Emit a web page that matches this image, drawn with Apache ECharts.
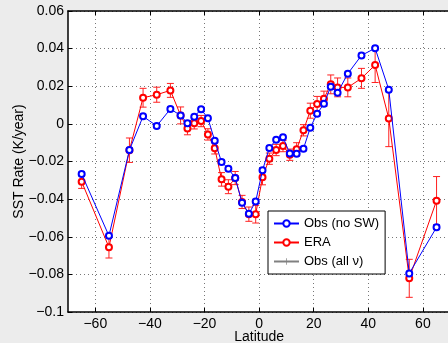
<!DOCTYPE html>
<html>
<head>
<meta charset="utf-8">
<script src="https://cdn.jsdelivr.net/npm/echarts@6/dist/echarts.min.js"></script>
<style>
html,body{margin:0;padding:0;background:#ececec;}
#c{width:448px;height:343px;}
</style>
</head>
<body>
<div id="c"></div>
<script>
// Latitude centres (degrees)
const latitudes = [-65, -55, -47.5, -42.5, -37.5, -32.5, -28.75, -26.25, -23.75, -21.25, -18.75, -16.25, -13.75, -11.25, -8.75, -6.25, -3.75, -1.25, 1.25, 3.75, 6.25, 8.75, 11.25, 13.75, 16.25, 18.75, 21.25, 23.75, 26.25, 28.75, 32.5, 37.5, 42.5, 47.5, 55, 65];
// Obs (no SW) SST rate, K/year
const obsNoSW = [-0.0267, -0.0595, -0.0139, 0.0040, -0.0011, 0.0079, 0.0045, 0.0003, 0.0038, 0.0078, 0.0030, -0.0090, -0.0203, -0.0238, -0.0288, -0.0419, -0.0478, -0.0412, -0.0247, -0.0128, -0.0085, -0.0071, -0.0157, -0.0159, -0.0132, -0.0020, 0.0054, 0.0107, 0.0198, 0.0166, 0.0267, 0.0364, 0.0402, 0.0182, -0.0795, -0.0550];
const obsNoSWErr = [0.0012, 0.0012, 0.0012, 0.0012, 0.0012, 0.0012, 0.0012, 0.0012, 0.0012, 0.0012, 0.0012, 0.0012, 0.0012, 0.0012, 0.0012, 0.0012, 0.0012, 0.0012, 0.0012, 0.0012, 0.0012, 0.0012, 0.0012, 0.0012, 0.0012, 0.0012, 0.0012, 0.0012, 0.0012, 0.0012, 0.0012, 0.0012, 0.0012, 0.0012, 0.0012, 0.0012];
// ERA SST rate, K/year
const era = [-0.0307, -0.0656, -0.0140, 0.0139, 0.0155, 0.0178, 0.0045, -0.0024, 0.0003, 0.0015, -0.0056, -0.0130, -0.0295, -0.0334, -0.0288, -0.0415, -0.0480, -0.0480, -0.0284, -0.0185, -0.0139, -0.0118, -0.0164, -0.0135, -0.0034, 0.0070, 0.0106, 0.0134, 0.0210, 0.0194, 0.0194, 0.0242, 0.0313, 0.0029, -0.0821, -0.0408];
const eraErr = [0.0036, 0.0057, 0.0065, 0.0050, 0.0040, 0.0037, 0.0045, 0.0034, 0.0030, 0.0030, 0.0030, 0.0030, 0.0036, 0.0037, 0.0035, 0.0035, 0.0038, 0.0047, 0.0040, 0.0030, 0.0030, 0.0030, 0.0030, 0.0035, 0.0030, 0.0040, 0.0040, 0.0040, 0.0050, 0.0050, 0.0050, 0.0053, 0.0093, 0.0150, 0.0101, 0.0128];
// Obs (all ν): not distinguishable in the figure (legend only)
const obsAllNu = [];
const xTicks = [-60, -40, -20, 0, 20, 40, 60];
const seriesNames = ['Obs (no SW)', 'ERA', 'Obs (all \u03bd)'];

const FONT = '"Liberation Sans", Arial, Helvetica, sans-serif';
const minus = s => String(s).replace('-', '\u2212');

function pairs(xs, ys) { return xs.map((x, i) => [x, ys[i]]); }

function errSeries(name, xs, ys, es, color, capW, z) {
  return {
    type: 'custom', name: name, z: z, silent: true, clip: true,
    renderItem: function (params, api) {
      const x = api.value(0), lo = api.value(1), hi = api.value(2);
      const p1 = api.coord([x, lo]), p2 = api.coord([x, hi]);
      const hw = capW / 2;
      const st = { stroke: color, lineWidth: 1 };
      return { type: 'group', children: [
        { type: 'line', shape: { x1: p1[0], y1: p1[1], x2: p2[0], y2: p2[1] }, style: st },
        { type: 'line', shape: { x1: p1[0] - hw, y1: p1[1], x2: p1[0] + hw, y2: p1[1] }, style: st },
        { type: 'line', shape: { x1: p2[0] - hw, y1: p2[1], x2: p2[0] + hw, y2: p2[1] }, style: st }
      ]};
    },
    encode: { x: 0, y: [1, 2] },
    data: xs.map((x, i) => [x, ys[i] - es[i], ys[i] + es[i]])
  };
}

const chart = echarts.init(document.getElementById('c'), null, { renderer: 'canvas' });
const axisLineStyle = { color: '#000', width: 1.5 };
chart.setOption({
  backgroundColor: '#ececec',
  animation: false,
  textStyle: { fontFamily: FONT },
  grid: { left: 68, top: 11, width: 382.2, bottom: 31, show: true, backgroundColor: '#fff', borderWidth: 0, containLabel: false, outerBoundsMode: 'none' },
  legend: {
    data: seriesNames,
    orient: 'vertical', left: 268, top: 211,
    backgroundColor: '#fff', borderColor: '#000', borderWidth: 1, borderRadius: 0,
    padding: [6, 6, 6, 5], itemGap: 6, itemWidth: 25, itemHeight: 8,
    textStyle: { fontSize: 13, color: '#000', fontFamily: FONT },
    selectedMode: false
  },
  xAxis: [{
    type: 'value', min: -70, max: 70, position: 'bottom',
    name: 'Latitude', nameLocation: 'middle', nameGap: 18, nameMoveOverlap: false,
    nameTextStyle: { fontSize: 14, color: '#000', fontFamily: FONT },
    axisLine: { show: true, onZero: false, lineStyle: axisLineStyle },
    axisTick: { show: true, inside: true, length: 4, customValues: xTicks, lineStyle: { color: '#000', width: 1 } },
    axisLabel: { customValues: xTicks, fontSize: 14, color: '#000', margin: 5, fontFamily: FONT, formatter: v => minus(v) },
    splitLine: { show: true, lineStyle: { color: '#777', type: [1, 3], width: 1 } }
  }, {
    type: 'value', min: -70, max: 70, position: 'top',
    axisLine: { show: true, onZero: false, lineStyle: axisLineStyle },
    axisTick: { show: true, inside: true, length: 4, customValues: xTicks, lineStyle: { color: '#000', width: 1 } },
    axisLabel: { show: false },
    splitLine: { show: false }
  }],
  yAxis: {
    type: 'value', min: -0.1, max: 0.06, interval: 0.02,
    name: 'SST Rate (K/year)', nameLocation: 'middle', nameGap: 42, nameMoveOverlap: false,
    nameTextStyle: { fontSize: 14, color: '#000', fontFamily: FONT },
    axisLine: { show: true, onZero: false, lineStyle: axisLineStyle },
    axisTick: { show: true, inside: true, length: 4, lineStyle: { color: '#000', width: 1 } },
    axisLabel: { fontSize: 14, color: '#000', margin: 4, fontFamily: FONT,
      formatter: v => minus(parseFloat(v.toFixed(2))) },
    splitLine: { show: true, lineStyle: { color: '#777', type: [1, 3], width: 1 } }
  },
  series: [
    errSeries('ERA err', latitudes, era, eraErr, '#ff2020', 7, 2),
    {
      name: 'ERA', type: 'line', z: 3, data: pairs(latitudes, era),
      symbol: 'emptyCircle', symbolSize: 6, showSymbol: true,
      lineStyle: { color: '#ff0000', width: 1 },
      itemStyle: { color: '#ff0000', borderColor: '#ff0000', borderWidth: 1 }
    },
    errSeries('Obs err', latitudes, obsNoSW, obsNoSWErr, '#0000ff', 6, 4),
    {
      name: 'Obs (no SW)', type: 'line', z: 5, data: pairs(latitudes, obsNoSW),
      symbol: 'emptyCircle', symbolSize: 6, showSymbol: true,
      lineStyle: { color: '#0000ff', width: 1 },
      itemStyle: { color: '#0000ff', borderColor: '#0000ff', borderWidth: 1 }
    },
    {
      name: 'Obs (all \u03bd)', type: 'line', z: 1, data: obsAllNu,
      symbol: 'path://M4,0h1v4h4v1h-4v4h-1v-4h-4v-1h4z', symbolSize: 7,
      lineStyle: { color: '#808080', width: 1 },
      itemStyle: { color: '#808080' }
    }
  ]
});
</script>
</body>
</html>
